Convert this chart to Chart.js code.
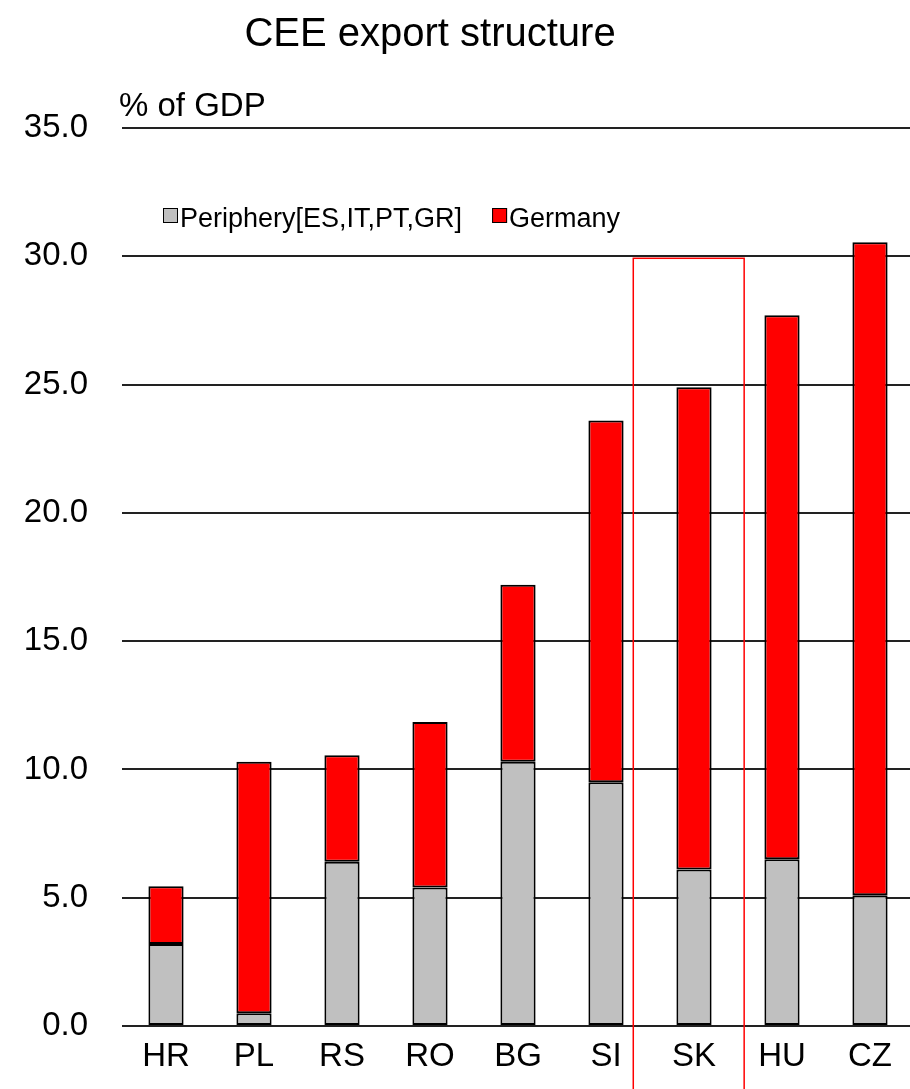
<!DOCTYPE html>
<html>
<head>
<meta charset="utf-8">
<title>CEE export structure</title>
<script src="https://cdn.jsdelivr.net/npm/chart.js@4.4.1/dist/chart.umd.min.js"></script>
<style>
  html, body { margin: 0; padding: 0; background: #fff; overflow: hidden; }
  #wrap { width: 914px; height: 1089px; }
</style>
</head>
<body>
<div id="wrap"><canvas id="export-chart" width="914" height="1089"></canvas></div>
<script>
// export to Germany and to the euro periphery, % of GDP
const countries = ['HR', 'PL', 'RS', 'RO', 'BG', 'SI', 'SK', 'HU', 'CZ'];
const peripheryShare = [3.2, 0.5, 6.4, 5.4, 10.3, 9.5, 6.1, 6.5, 5.1];
const germanyShare = [2.25, 9.8, 4.15, 6.45, 6.9, 14.1, 18.8, 21.2, 25.45];
const yTicks = [0, 5, 10, 15, 20, 25, 30, 35];
const highlighted = 'SK';

const FONT = 'Arial, "Liberation Sans", sans-serif';

// title, unit label, legend inside the plot and the box round one country
const decorations = {
  id: 'decorations',
  afterDraw(chart) {
    const c = chart.ctx;
    const x = chart.scales.x;
    const y = chart.scales.y;
    c.save();

    c.fillStyle = '#000';
    c.textBaseline = 'alphabetic';
    c.font = '40px ' + FONT;
    c.textAlign = 'center';
    c.fillText('CEE export structure', 430, 46);

    c.font = '33px ' + FONT;
    c.textAlign = 'left';
    c.fillText('% of GDP', 119, 116);

    // legend
    c.font = '27px ' + FONT;
    let lx = 163;
    const ly = 227;
    chart.data.datasets.forEach(ds => {
      c.fillStyle = ds.backgroundColor;
      c.fillRect(lx, ly - 19, 15, 15);
      c.strokeStyle = '#000';
      c.lineWidth = 1;
      c.strokeRect(lx + 0.5, ly - 18.5, 14, 14);
      c.fillStyle = '#000';
      c.fillText(ds.label, lx + 17, ly);
      lx += 17 + c.measureText(ds.label).width + 30;
    });

    // highlight box
    const i = countries.indexOf(highlighted);
    const step = x.getPixelForValue(1) - x.getPixelForValue(0);
    const cx = x.getPixelForValue(i);
    const top = y.getPixelForValue(30) + 2;
    c.strokeStyle = '#ff0000';
    c.lineWidth = 1.5;
    c.strokeRect(cx - 0.69 * step, top, 1.26 * step, chart.height - top + 10);
    c.restore();
  }
};

new Chart(document.getElementById('export-chart'), {
  type: 'bar',
  data: {
    labels: countries,
    datasets: [
      {
        label: 'Periphery[ES,IT,PT,GR]',
        data: peripheryShare,
        backgroundColor: '#c0c0c0',
        borderColor: '#000',
        borderWidth: 2,
        borderSkipped: false
      },
      {
        label: 'Germany',
        data: germanyShare,
        backgroundColor: '#ff0000',
        borderColor: '#000',
        borderWidth: 2,
        borderSkipped: false
      }
    ]
  },
  options: {
    responsive: false,
    animation: false,
    devicePixelRatio: 1,
    layout: { padding: { top: 128, left: 0, right: 0, bottom: 0 } },
    datasets: { bar: { barPercentage: 0.4, categoryPercentage: 1 } },
    plugins: {
      legend: { display: false },
      tooltip: { enabled: false }
    },
    scales: {
      x: {
        stacked: true,
        grid: { display: false, drawTicks: false },
        border: { display: false },
        ticks: { color: '#000', font: { family: FONT, size: 33 }, padding: 11 },
        afterFit(scale) { scale.height = 63; }
      },
      y: {
        stacked: true,
        min: 0,
        max: 35,
        afterBuildTicks(scale) { scale.ticks = yTicks.map(v => ({ value: v })); },
        grid: { color: '#222', lineWidth: 2, drawTicks: false },
        border: { display: false },
        ticks: {
          color: '#000',
          font: { family: FONT, size: 33 },
          padding: 34,
          callback: v => v.toFixed(1)
        },
        afterFit(scale) { scale.width = 122; }
      }
    }
  },
  plugins: [decorations]
});
</script>
</body>
</html>
